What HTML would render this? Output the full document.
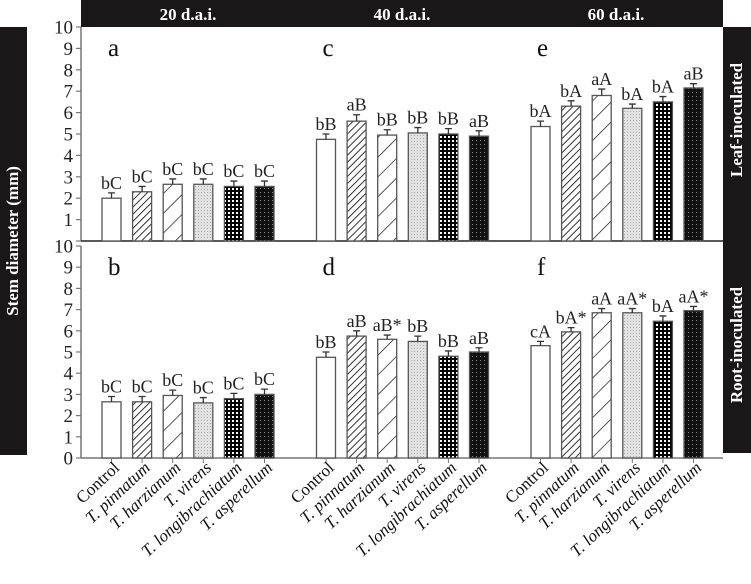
<!DOCTYPE html>
<html><head><meta charset="utf-8"><style>
body{margin:0;background:#fff}
svg{display:block;font-family:"Liberation Serif",serif}
</style></head><body>
<svg id="c" width="751" height="584" viewBox="0 0 751 584">
<defs>
<pattern id="p1" width="5" height="5" patternUnits="userSpaceOnUse" patternTransform="rotate(45)"><rect width="5" height="5" fill="#fff"/><line x1="0" y1="0" x2="0" y2="5" stroke="#000" stroke-width="1.6"/></pattern>
<pattern id="p2" width="14" height="14" patternUnits="userSpaceOnUse" patternTransform="rotate(45)"><rect width="14" height="14" fill="#fff"/><line x1="0" y1="0" x2="0" y2="14" stroke="#000" stroke-width="1.3"/></pattern>
<pattern id="p3" width="3" height="3" patternUnits="userSpaceOnUse"><rect width="3" height="3" fill="#e2e2e2"/><rect width="1" height="1" fill="#aaa"/></pattern>
<pattern id="p4" width="4" height="4" patternUnits="userSpaceOnUse"><rect width="4" height="4" fill="#000"/><rect width="2" height="2" fill="#fff"/></pattern>
<pattern id="p5" width="4" height="4" patternUnits="userSpaceOnUse"><rect width="4" height="4" fill="#111"/><rect width="1" height="1" fill="#888"/></pattern>
</defs>
<rect x="81" y="0" width="642" height="27" fill="#1a1718"/>
<rect x="0" y="27" width="27" height="428" fill="#1a1718"/>
<rect x="723" y="27" width="28" height="426" fill="#1a1718"/>
<text x="14" y="241" transform="rotate(-90 14 241)" fill="#fff" font-weight="bold" font-size="17" text-anchor="middle" dominant-baseline="middle">Stem diameter (mm)</text>
<text x="738" y="120" transform="rotate(-90 738 120)" fill="#fff" font-weight="bold" font-size="17" text-anchor="middle" dominant-baseline="middle">Leaf-inoculated</text>
<text x="738" y="345" transform="rotate(-90 738 345)" fill="#fff" font-weight="bold" font-size="17" text-anchor="middle" dominant-baseline="middle">Root-inoculated</text>
<g id="g"></g>
</svg>
<script>
const categories=["Control","T. pinnatum","T. harzianum","T. virens","T. longibrachiatum","T. asperellum"];
const times=["20 d.a.i.","40 d.a.i.","60 d.a.i."];
const leafVals=[[2.0,2.3,2.65,2.65,2.55,2.55],[4.75,5.6,4.95,5.05,5.0,4.9],[5.35,6.3,6.8,6.2,6.5,7.15]];
const rootVals=[[2.65,2.65,2.95,2.6,2.8,3.0],[4.75,5.75,5.6,5.5,4.8,5.0],[5.3,5.95,6.85,6.85,6.45,6.95]];
const leafErr=[[0.25,0.25,0.25,0.25,0.25,0.25],[0.25,0.3,0.25,0.25,0.25,0.25],[0.25,0.25,0.3,0.2,0.25,0.2]];
const rootErr=[[0.25,0.25,0.25,0.25,0.25,0.25],[0.25,0.25,0.2,0.25,0.25,0.2],[0.2,0.2,0.2,0.2,0.25,0.2]];
const leafLab=[["bC","bC","bC","bC","bC","bC"],["bB","aB","bB","bB","bB","aB"],["bA","bA","aA","bA","bA","aB"]];
const rootLab=[["bC","bC","bC","bC","bC","bC"],["bB","aB","aB*","bB","bB","aB"],["cA","bA*","aA","aA*","bA","aA*"]];
const panelLetters=[["a","c","e"],["b","d","f"]];
const yTicks=[0,1,2,3,4,5,6,7,8,9,10];
const fills=["#fff","url(#p1)","url(#p2)","url(#p3)","url(#p4)","url(#p5)"];
const NS="http://www.w3.org/2000/svg",G=document.getElementById('g');
function mk(t,a,p){const e=document.createElementNS(NS,t);for(const k in a)e.setAttribute(k,a[k]);(p||G).appendChild(e);return e;}
const panels=[{y0:241,y10:27},{y0:458,y10:246}];
function yS(p,v){return panels[p].y0+(panels[p].y10-panels[p].y0)*v/10;}
function xS(g,i){return 102+g*214.5+i*30.6;}
const BW=19;
times.forEach((t,g)=>{const e=mk('text',{x:81+107+g*214,y:20,'font-size':17,'font-weight':'bold',fill:'#fff','text-anchor':'middle'});

e.textContent=t;});
[0,1].forEach(p=>{
 const ax=mk('line',{x1:81,x2:81,y1:yS(p,10),y2:yS(p,0),stroke:'#777','stroke-width':1.5});
 
 
 const bl=mk('line',{x1:81,x2:723,y1:yS(p,0),y2:yS(p,0),stroke:p?'#777':'#222','stroke-width':1.5});
 
 
 yTicks.forEach(v=>{const y=yS(p,v);mk('line',{x1:76,x2:81,y1:y,y2:y,stroke:'#777','stroke-width':1.2});
  if(p===0&&v===0)return;
  const tx=mk('text',{x:73,y:y+6.5,'font-size':19,'text-anchor':'end',fill:'#222'});
  
  tx.textContent=v;});
 const vals=p?rootVals:leafVals,errs=p?rootErr:leafErr,labs=p?rootLab:leafLab;
 for(let g=0;g<3;g++){
  const pl=mk('text',{x:xS(g,0)+6,y:yS(p,10)+29,'font-size':25,fill:'#111'});
  
  pl.textContent=panelLetters[p][g];
  vals[g].forEach((v,i)=>{const x=xS(g,i),y=yS(p,v),h=yS(p,0)-y;
   const r=mk('rect',{x:x,y:y,width:BW,height:h,fill:fills[i],stroke:'#555','stroke-width':1.3});
   
   
   const ye=yS(p,v+errs[g][i]),cx=x+BW/2;
   const el=mk('path',{d:`M${cx} ${y}V${ye}M${cx-3.5} ${ye}H${cx+3.5}`,stroke:'#333','stroke-width':1.3,fill:'none'});
   
   
   const lt=mk('text',{x:cx,y:ye-4,'font-size':18,'text-anchor':'middle',fill:'#222'});
   
   lt.textContent=labs[g][i];
  });
 }
});
for(let g=0;g<3;g++)categories.forEach((c,i)=>{const cx=xS(g,i)+BW/2;
 mk('line',{x1:cx,x2:cx,y1:458,y2:463,stroke:'#777'});
 const t=mk('text',{x:cx+9,y:469,'font-size':17,'text-anchor':'end',fill:'#111',transform:`rotate(-43 ${cx+9} 469)`,'font-style':i?'italic':'normal'});
 
 t.textContent=c;});
</script>
</body></html>
